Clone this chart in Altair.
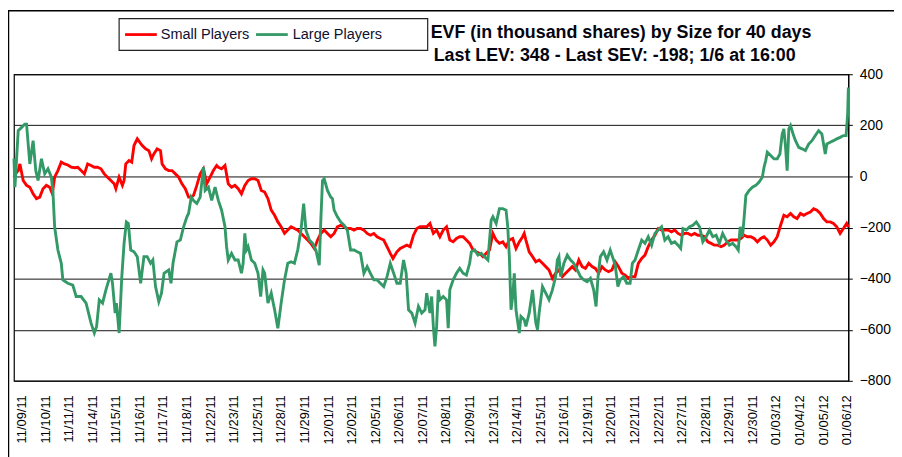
import altair as alt
import pandas as pd

# ---------------- data ----------------
dates = ["11/09/11", "11/10/11", "11/11/11", "11/14/11", "11/15/11", "11/16/11",
         "11/17/11", "11/18/11", "11/22/11", "11/23/11", "11/25/11", "11/28/11",
         "11/29/11", "12/01/11", "12/02/11", "12/05/11", "12/06/11", "12/07/11",
         "12/08/11", "12/09/11", "12/13/11", "12/14/11", "12/15/11", "12/16/11",
         "12/19/11", "12/20/11", "12/21/11", "12/22/11", "12/27/11", "12/28/11",
         "12/29/11", "12/30/11", "01/03/12", "01/04/12", "01/05/12", "01/06/12"]

series_names = ["Small Players", "Large Players"]
series_colors = ["#FF0000", "#339966"]

# intraday bar number (0..841) and EVF value, Small Players
small_bar = [0, 1.5, 4.3, 6, 9.3, 12.7, 16, 19.3, 22.7, 26, 29.3, 32.7, 36, 38.7, 41, 44.3, 47.7, 51,
             54.3, 57.7, 61, 64.3, 67.7, 71, 74.3, 77.7, 81, 84.3, 87.7, 91, 94.3, 97.7, 101, 102.7,
             106, 109.3, 111, 112.7, 116, 118.7, 121, 124.3, 126.7, 129.3, 132.7, 136, 138.7, 141,
             144.3, 147.7, 149.3, 152.7, 156, 159.3, 162.7, 166, 169.3, 172.7, 176, 178.7, 181, 184.3,
             187.7, 191, 194.3, 197.7, 201, 204.3, 206, 209.3, 212.7, 216, 219.3, 222.7, 226, 229.3,
             232.7, 236, 239.3, 242.7, 246, 249.3, 252.7, 256, 259.3, 262.7, 266, 269.3, 272.7, 276,
             279.3, 282.7, 286, 289.3, 292.7, 296, 299.3, 302.7, 306, 309.3, 312.7, 316, 319.3, 322.7,
             326, 329.3, 332.7, 336, 339.3, 342.7, 346, 349.3, 352.7, 356, 359.3, 362.7, 366, 369.3,
             372.7, 376, 379.3, 382, 386, 389.3, 392.7, 396, 399.3, 402.7, 406, 409.3, 412.7, 416,
             419.3, 422.7, 426, 429.3, 432.7, 436, 439.3, 442.7, 446, 449.3, 452.7, 456, 459.3, 462.7,
             466, 469.3, 472.7, 476, 479.3, 482.7, 486, 489.3, 492.7, 496, 499.3, 502.7, 506, 509.3,
             512.7, 514.3, 516, 519.3, 522.7, 526, 529.3, 532.7, 536, 539.3, 542.7, 546, 549.3, 552.7,
             556, 559.3, 562.7, 566, 569.3, 572.7, 576, 579.3, 582.7, 586, 589.3, 592.7, 596, 599.3,
             602.7, 606, 609.3, 612.7, 616, 619.3, 622.7, 626, 629.3, 632.7, 636, 639.3, 642.7, 646,
             649.3, 652.7, 656, 659.3, 662.7, 666, 669.3, 672.7, 676, 679.3, 682.7, 686, 689.3, 692.7,
             696, 699.3, 702.7, 706, 709.3, 712.7, 716, 719.3, 722.7, 726, 729.3, 732.7, 736, 739.3,
             742.7, 746, 749.3, 752.7, 756, 759.3, 762.7, 766, 769.3, 772.7, 776, 779.3, 782.7, 786,
             789.3, 792.7, 796, 799.3, 802.7, 806, 809.3, 812.7, 816, 819.3, 822.7, 826, 829.3, 832.7,
             836, 839.3, 841]
small_val = [-3, 10, 23, 49, -16, -35, -42, -68, -87, -81, -48, -35, -42, -68, -3, 23, 56, 49,
             45, 36, 34, 36, 23, 10, 49, 43, 36, 36, 30, 10, -3, -16, -29, -48,
             -3, -35, -16, 49, 62, 56, 121, 147, 134, 121, 108, 101, 69, 88,
             108, 101, 49, 30, 23, 23, 10, -3, -29, -48, -81, -81, -74, -35,
             10, 30, -29, -3, 23, 43, 36, 30, 43, -29, -42, -35, -48, -68,
             -35, -16, -9, -9, -16, -55, -61, -87, -132, -152, -178, -197, -223, -210,
             -197, -204, -210, -223, -236, -249, -262, -282, -249, -223, -210, -223, -236, -223,
             -197, -191, -197, -204, -204, -210, -204, -204, -210, -223, -230, -223, -236, -243,
             -249, -275, -301, -321, -295, -282, -275, -269, -275, -230, -204, -197, -197, -197,
             -184, -223, -210, -236, -210, -197, -249, -256, -243, -236, -236, -249, -262, -288,
             -295, -301, -314, -301, -288, -223, -249, -262, -256, -275, -249, -243, -282, -256,
             -236, -223, -249, -295, -314, -334, -327, -340, -353, -366, -399, -379, -366, -392,
             -379, -366, -353, -366, -327, -353, -360, -340, -353, -360, -379, -353, -366, -373,
             -366, -334, -353, -379, -386, -399, -392, -392, -340, -321, -308, -275, -249, -230,
             -204, -210, -210, -210, -217, -210, -223, -230, -223, -223, -230, -223, -230, -230,
             -236, -256, -262, -269, -269, -275, -269, -256, -249, -249, -249, -243, -230, -236,
             -236, -243, -256, -243, -236, -249, -269, -256, -236, -191, -152, -158, -145, -158,
             -165, -145, -152, -145, -139, -126, -132, -145, -165, -178, -178, -184, -197, -223,
             -204, -184, -198]

# intraday bar number (0..841) and EVF value, Large Players
large_bar = [0, 1, 4.3, 7.7, 11, 12.7, 16, 19.3, 22, 24.3, 27.7, 31, 34.3, 37.7, 39.3, 41, 44.3,
             47.7, 49.3, 54.3, 59.3, 62.7, 67.7, 72.7, 77.7, 81, 83.3, 86, 89.3, 92.7, 97.7, 99.3,
             102, 103.3, 106, 108.7, 111, 113.3, 115.3, 117.7, 121, 124.3, 127.7, 131, 134.3, 137.7,
             140, 142.7, 146, 148.7, 151.3, 156, 158.3, 160.3, 164.3, 167.7, 171, 174.3, 176, 178.7,
             181, 184.3, 187.7, 191, 192.7, 196, 199.3, 202.7, 206, 209.3, 212.7, 214.3, 216, 219.3,
             222.7, 226, 229.3, 231, 232.7, 234.3, 236, 239.3, 242.7, 246, 248.7, 251, 252.7, 256,
             259.3, 262.7, 266, 269.3, 272.7, 276, 279.3, 282.7, 286, 289.3, 292, 294.3, 297.7, 301,
             304.3, 307.7, 309.3, 311, 312.7, 316, 319.3, 321, 322.7, 326, 329.3, 332.7, 336, 339.3,
             342.7, 346, 349.3, 352.7, 356, 359.3, 362.7, 366, 369.3, 372.7, 376, 379.3, 382.7, 386,
             389.3, 392.7, 395.3, 397.7, 401, 404.3, 407.7, 411, 414.3, 416, 419.3, 421, 422.7, 424.3,
             426, 427.7, 429.3, 432.7, 436, 437.7, 439.3, 442.7, 446, 449.3, 452.7, 456, 459.3, 461,
             464.3, 467.7, 471, 474.3, 477.7, 481, 482.7, 486, 489.3, 492.7, 496, 497.7, 499.3, 501,
             502.7, 504.3, 506, 509.3, 511, 514.3, 516, 519.3, 522.7, 526, 527.7, 529.3, 532.7, 536,
             539.3, 542.7, 546, 547.7, 549.3, 551, 554.3, 557.7, 561, 564.3, 567.7, 571, 574.3, 577.7,
             581, 584.3, 586.7, 588.7, 591, 594.3, 597.7, 601, 602.7, 606, 608.7, 611, 614.3, 617.7,
             621, 623.3, 626, 629.3, 632.7, 636, 639.3, 642.7, 646, 649.3, 652.7, 656, 659.3, 662.7,
             666, 669.3, 672, 674.3, 677.7, 681, 684.3, 687.7, 691, 694.3, 697.7, 701, 704.3, 707.7,
             711, 714.3, 717.7, 721, 724.3, 727.7, 730, 732, 734.3, 736, 737.7, 741, 744.3, 747.7,
             751, 754.3, 756, 757.7, 759.3, 762.7, 766, 769.3, 772, 774.3, 776, 777.7, 779.3, 781,
             782.7, 785.3, 787.7, 791, 794.3, 797.7, 801, 804.3, 807.7, 811, 814.3, 817.7, 819.3,
             822.7, 826, 829.3, 832.7, 836, 838.7, 840.3, 841]
large_val = [70, -42, 179, 192, 205, 205, 49, 140, 23, -16, 69, 10, 30, -3, -60, -197, -288,
             -340, -405, -418, -425, -470, -470, -496, -574, -613, -587, -483, -496, -444, -379, -418,
             -535, -496, -613, -392, -262, -178, -184, -288, -295, -314, -418, -314, -314, -340,
             -327, -431, -490, -457, -379, -366, -418, -340, -256, -249, -197, -158, -145, -81,
             -94, -106, -81, 36, -55, -42, -94, -42, -94, -132, -197, -275, -327, -301,
             -327, -327, -379, -340, -223, -288, -275, -327, -340, -379, -470, -366, -379, -496,
             -457, -522, -594, -496, -405, -340, -334, -340, -288, -210, -106, -210, -249, -262,
             -288, -347, -171, -16, -9, -55, -81, -87, -132, -158, -178, -191, -210, -288,
             -288, -295, -301, -379, -353, -379, -405, -405, -418, -431, -392, -340, -379, -418,
             -418, -327, -379, -522, -535, -574, -509, -535, -522, -457, -535, -470, -587, -665,
             -587, -444, -483, -470, -483, -594, -444, -405, -379, -360, -379, -386, -340, -295,
             -288, -308, -301, -314, -327, -171, -158, -184, -126, -126, -132, -197, -314, -522,
             -470, -379, -522, -613, -548, -561, -587, -535, -444, -574, -600, -535, -431, -457,
             -483, -444, -392, -327, -314, -392, -340, -308, -327, -340, -366, -392, -405, -412,
             -399, -444, -509, -392, -314, -295, -327, -288, -308, -347, -431, -405, -392, -418,
             -418, -340, -327, -288, -249, -262, -236, -269, -223, -210, -197, -249, -236, -262,
             -256, -269, -282, -204, -210, -197, -191, -178, -197, -256, -236, -210, -236, -230,
             -262, -223, -249, -269, -262, -275, -288, -197, -236, -158, -74, -55, -42, -35,
             -22, -3, 36, 62, 95, 82, 69, 69, 88, 166, 186, 114, 23, 186,
             199, 166, 140, 114, 108, 101, 127, 140, 160, 179, 166, 88, 127,
             134, 140, 147, 153, 160, 160, 245, 348]

title_lines = ["EVF (in thousand shares) by Size for 40 days",
               "Last LEV: 348 - Last SEV: -198; 1/6 at 16:00"]
y_ticks = [-800, -600, -400, -200, 0, 200, 400]

# ---------------- build ----------------
df = pd.concat([
    pd.DataFrame({"bar": small_bar, "value": small_val, "series": series_names[0]}),
    pd.DataFrame({"bar": large_bar, "value": large_val, "series": series_names[1]}),
], ignore_index=True)

FONT = "Liberation Sans"
label_step = 23.76
label_start = 7.7
tick_pos = [label_start + label_step * i for i in range(len(dates))]
label_expr = "[" + ",".join("'%s'" % d for d in dates) + "][round((datum.value - %s) / %s)]" % (label_start, label_step)

x_enc = alt.X("bar:Q",
              scale=alt.Scale(domain=[0, 841], nice=False, zero=False),
              axis=alt.Axis(values=tick_pos, labelExpr=label_expr, labelAngle=270,
                            labelOverlap=False, labelFlush=False, grid=False, ticks=False,
                            domain=False, labelPadding=14, labelFontSize=13, labelFont=FONT,
                            labelColor="black", title=None))
y_enc = alt.Y("value:Q",
              scale=alt.Scale(domain=[-800, 400], nice=False, zero=False),
              axis=alt.Axis(orient="right", values=y_ticks, grid=True, gridColor="#111111",
                            gridWidth=1, gridOpacity=1, tickSize=4, tickColor="black",
                            domainColor="black", labelPadding=7, labelFontSize=14,
                            labelFont=FONT, labelColor="black", title=None))
color_enc = alt.Color("series:N", scale=alt.Scale(domain=series_names, range=series_colors),
                      legend=None)

base = alt.Chart(df).mark_line(strokeWidth=2.9, interpolate="linear").encode(
    x=x_enc, y=y_enc, color=color_enc)

red_line = base.transform_filter(alt.datum.series == series_names[0])
green_line = base.transform_filter(alt.datum.series == series_names[1])

one = pd.DataFrame({"k": [0]})

# outer frame of the chart
frame = alt.Chart(one).mark_rect(fill=None, stroke="black", strokeWidth=1.5).encode(
    x=alt.value(-5.5), x2=alt.value(1000), y=alt.value(-64), y2=alt.value(600))

# legend box
leg_box = alt.Chart(one).mark_rect(fill="white", stroke="#222222", strokeWidth=1.2).encode(
    x=alt.value(106), x2=alt.value(417), y=alt.value(-56), y2=alt.value(-24))
leg_df = pd.DataFrame({"series": series_names, "x1": [112, 244], "x2": [144, 276], "xt": [148, 281]})
leg_lines = alt.Chart(leg_df).mark_rule(strokeWidth=2.8).encode(
    x=alt.X("x1:Q", scale=None), x2="x2:Q", y=alt.value(-40), color=color_enc)
leg_text = alt.Chart(leg_df).mark_text(align="left", baseline="middle", fontSize=14.6, font=FONT,
                                       color="#101030").encode(
    x=alt.X("xt:Q", scale=None), y=alt.value(-40), text="series:N")

# title lines
t_df = pd.DataFrame({"line": title_lines, "tx": [420, 423], "ty": [-37, -13]})
title = alt.Chart(t_df).mark_text(align="left", baseline="alphabetic", fontSize=18,
                                  fontWeight="bold", font=FONT, color="#050510").encode(
    x=alt.X("tx:Q", scale=None), y=alt.Y("ty:Q", scale=None), text="line:N")

chart = alt.layer(frame, red_line, green_line, leg_box, leg_lines, leg_text, title).resolve_scale(
    color="shared"
).properties(
    width=841, height=309,
    autosize=alt.AutoSizeParams(type="none"),
    padding={"left": 6, "top": 65, "right": 46, "bottom": 75},
    background="white",
).configure_view(stroke="black", strokeWidth=1.2)

chart.save("out.html", embed_options={"renderer": "svg", "actions": False})
